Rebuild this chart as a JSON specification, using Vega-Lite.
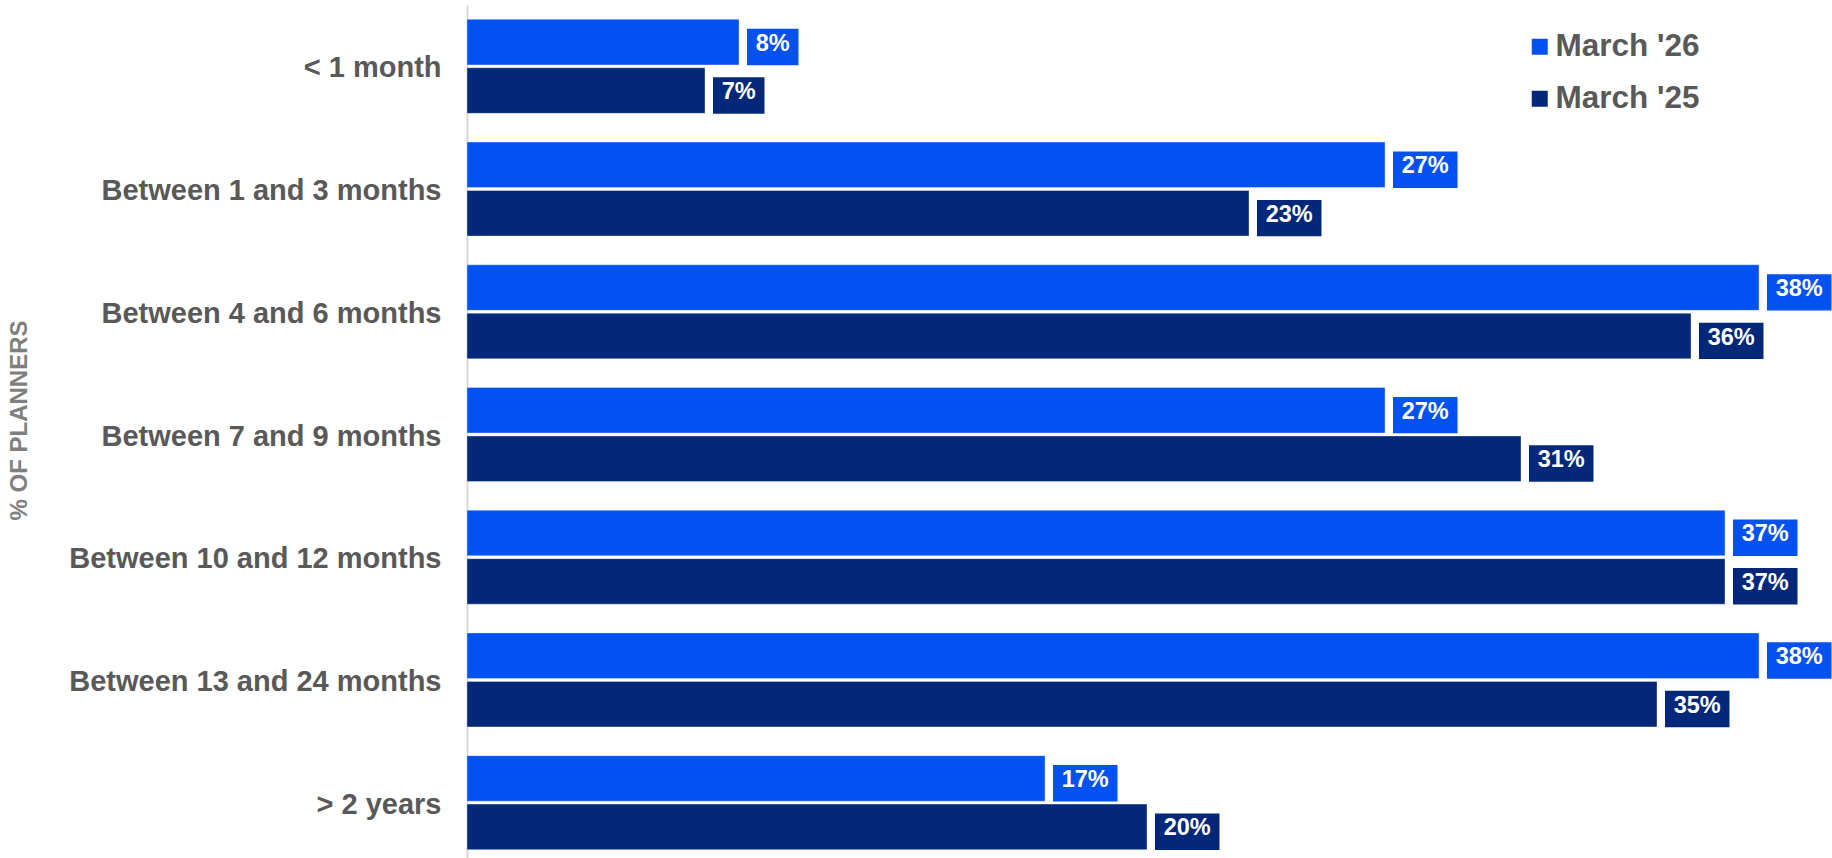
{
  "$schema": "https://vega.github.io/schema/vega-lite/v6.json",
  "autosize": {"type": "none"},
  "padding": {"left": 467, "top": 5, "right": 5, "bottom": 0},
  "width": 1360,
  "height": 859,
  "background": "#ffffff",
  "config": {
    "view": {"stroke": null},
    "font": "Liberation Sans"
  },
  "data": {
    "values": [
      {"category": "< 1 month", "series": "March '26", "value": 8},
      {"category": "< 1 month", "series": "March '25", "value": 7},
      {"category": "Between 1 and 3 months", "series": "March '26", "value": 27},
      {"category": "Between 1 and 3 months", "series": "March '25", "value": 23},
      {"category": "Between 4 and 6 months", "series": "March '26", "value": 38},
      {"category": "Between 4 and 6 months", "series": "March '25", "value": 36},
      {"category": "Between 7 and 9 months", "series": "March '26", "value": 27},
      {"category": "Between 7 and 9 months", "series": "March '25", "value": 31},
      {"category": "Between 10 and 12 months", "series": "March '26", "value": 37},
      {"category": "Between 10 and 12 months", "series": "March '25", "value": 37},
      {"category": "Between 13 and 24 months", "series": "March '26", "value": 38},
      {"category": "Between 13 and 24 months", "series": "March '25", "value": 35},
      {"category": "> 2 years", "series": "March '26", "value": 17},
      {"category": "> 2 years", "series": "March '25", "value": 20}
    ]
  },
  "encoding": {
    "y": {
      "field": "category",
      "type": "nominal",
      "sort": null,
      "scale": {"paddingInner": 0.234, "paddingOuter": 0.117},
      "axis": {
        "title": "% OF PLANNERS",
        "titleFont": "Liberation Sans",
        "titleFontSize": 24,
        "titleFontWeight": "bold",
        "titleColor": "#7F7F7F",
        "titleX": -448,
        "titleY": 415,
        "titleAngle": 270,
        "titleAlign": "center",
        "titleBaseline": "middle",
        "labelFont": "Liberation Sans",
        "labelFontSize": 29,
        "labelFontWeight": "bold",
        "labelColor": "#595959",
        "labelPadding": 26,
        "labelOffset": 2,
        "labelLimit": 500,
        "ticks": false,
        "domain": true,
        "domainColor": "#D9D9D9",
        "domainWidth": 2,
        "grid": false
      }
    },
    "yOffset": {
      "field": "series",
      "type": "nominal",
      "sort": ["March '26", "March '25"],
      "scale": {"paddingInner": 0.06, "paddingOuter": 0}
    },
    "color": {
      "field": "series",
      "type": "nominal",
      "sort": ["March '26", "March '25"],
      "scale": {"domain": ["March '26", "March '25"], "range": ["#0451F2", "#03287A"]},
      "legend": null
    }
  },
  "layer": [
    {
      "mark": {"type": "bar", "stroke": "#ffffff", "strokeOpacity": 0.35, "strokeWidth": 1},
      "encoding": {
        "x": {"field": "value", "type": "quantitative", "scale": {"domain": [0, 40], "nice": false}, "axis": null},
        "color": {
          "field": "series",
          "type": "nominal",
          "sort": ["March '26", "March '25"],
          "scale": {"domain": ["March '26", "March '25"], "range": ["#0451F2", "#03287A"]},
          "legend": {
            "title": null,
            "orient": "none",
            "legendX": 1057,
            "legendY": 26,
            "padding": 0,
            "symbolType": "square",
            "symbolSize": 256,
            "symbolStrokeWidth": 0,
            "labelFont": "Liberation Sans",
            "labelFontSize": 31.5,
            "labelFontWeight": "bold",
            "labelColor": "#595959",
            "labelOffset": 0,
            "rowPadding": 19,
            "labelLimit": 400
          }
        }
      }
    },
    {
      "transform": [{"filter": "datum.value >= 10"}],
      "mark": {"type": "bar", "xOffset": 8, "x2Offset": 72.5, "height": {"band": 0.8}},
      "encoding": {
        "x": {"field": "value", "type": "quantitative"},
        "x2": {"field": "value"}
      }
    },
    {
      "transform": [{"filter": "datum.value < 10"}],
      "mark": {"type": "bar", "xOffset": 8, "x2Offset": 59.5, "height": {"band": 0.8}},
      "encoding": {
        "x": {"field": "value", "type": "quantitative"},
        "x2": {"field": "value"}
      }
    },
    {
      "transform": [{"filter": "datum.value >= 10"}, {"calculate": "datum.value + '%'", "as": "label"}],
      "mark": {"type": "text", "xOffset": 40.25, "align": "center", "baseline": "alphabetic", "dy": 8.5, "font": "Liberation Sans", "fontSize": 23.5, "fontWeight": "bold", "color": "#ffffff"},
      "encoding": {
        "x": {"field": "value", "type": "quantitative"},
        "text": {"field": "label"},
        "color": {"value": "#ffffff"}
      }
    },
    {
      "transform": [{"filter": "datum.value < 10"}, {"calculate": "datum.value + '%'", "as": "label"}],
      "mark": {"type": "text", "xOffset": 33.75, "align": "center", "baseline": "alphabetic", "dy": 8.5, "font": "Liberation Sans", "fontSize": 23.5, "fontWeight": "bold", "color": "#ffffff"},
      "encoding": {
        "x": {"field": "value", "type": "quantitative"},
        "text": {"field": "label"},
        "color": {"value": "#ffffff"}
      }
    }
  ]
}
